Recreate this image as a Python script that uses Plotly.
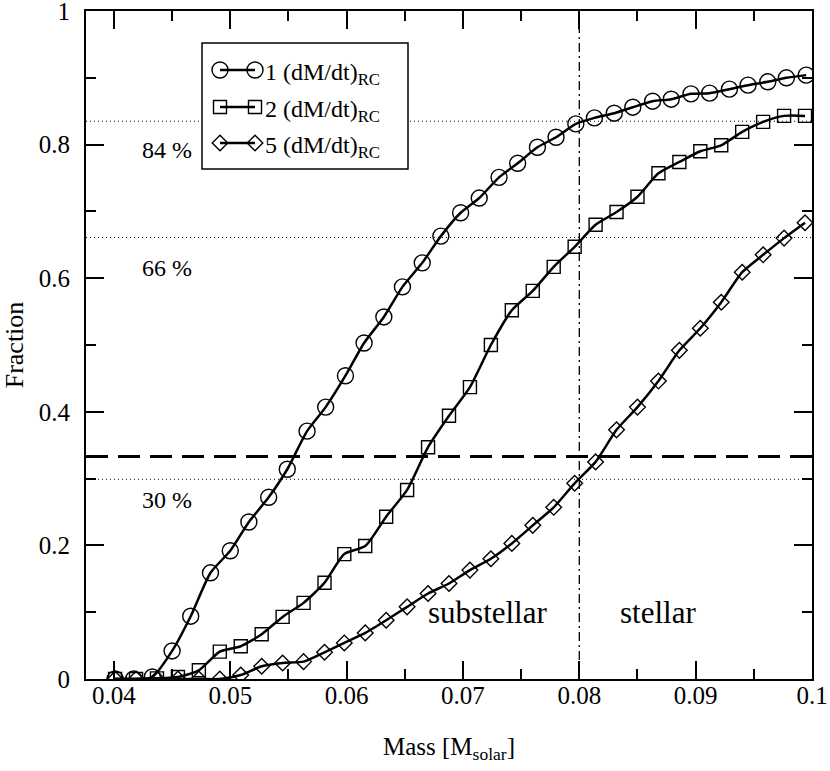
import plotly.graph_objects as go

# ---------------- data ----------------
mass_1 = [0.0401, 0.0417, 0.0433, 0.0450, 0.0466, 0.0483, 0.0500, 0.0516, 0.0533, 0.0549,
          0.0566, 0.0582, 0.0599, 0.0615, 0.0632, 0.0648, 0.0665, 0.0681, 0.0698, 0.0714,
          0.0731, 0.0747, 0.0764, 0.0780, 0.0797, 0.0813, 0.0830, 0.0846, 0.0863, 0.0879,
          0.0896, 0.0912, 0.0929, 0.0945, 0.0962, 0.0978, 0.0995]
frac_1 = [0.000, 0.000, 0.003, 0.042, 0.094, 0.159, 0.192, 0.235, 0.272, 0.314,
          0.371, 0.407, 0.454, 0.503, 0.542, 0.587, 0.623, 0.663, 0.698, 0.720,
          0.751, 0.772, 0.796, 0.811, 0.831, 0.840, 0.847, 0.856, 0.865, 0.868,
          0.876, 0.877, 0.883, 0.889, 0.894, 0.900, 0.904]

mass_2 = [0.0401, 0.0419, 0.0437, 0.0455, 0.0473, 0.0491, 0.0509, 0.0527, 0.0545, 0.0563,
          0.0581, 0.0598, 0.0616, 0.0634, 0.0652, 0.0670, 0.0688, 0.0706, 0.0724, 0.0742,
          0.0760, 0.0778, 0.0796, 0.0814, 0.0832, 0.0850, 0.0868, 0.0886, 0.0904, 0.0922,
          0.0940, 0.0958, 0.0976, 0.0994]
frac_2 = [0.000, 0.000, 0.001, 0.003, 0.013, 0.041, 0.049, 0.067, 0.093, 0.114,
          0.144, 0.187, 0.199, 0.243, 0.283, 0.347, 0.394, 0.437, 0.500, 0.552,
          0.581, 0.617, 0.647, 0.680, 0.699, 0.722, 0.757, 0.774, 0.790, 0.799,
          0.819, 0.834, 0.843, 0.843]

mass_5 = mass_2
frac_5 = [0.000, 0.000, 0.000, 0.000, 0.000, 0.000, 0.006, 0.019, 0.024, 0.026,
          0.040, 0.054, 0.069, 0.088, 0.108, 0.128, 0.143, 0.163, 0.180, 0.203,
          0.230, 0.257, 0.293, 0.325, 0.373, 0.407, 0.446, 0.492, 0.525, 0.564,
          0.609, 0.635, 0.660, 0.683]

series_names = ["1 (dM/dt)<sub>RC</sub>", "2 (dM/dt)<sub>RC</sub>", "5 (dM/dt)<sub>RC</sub>"]

ref_levels = [0.835, 0.661, 0.299]
ref_labels = ["84 %", "66 %", "30 %"]
ref_label_y = [0.792, 0.615, 0.268]
ref_label_x = 0.0422
third_level = 0.333
mass_limit = 0.08
region_labels = ["substellar", "stellar"]
region_x = [0.0721, 0.0868]
region_y = 0.099

x_range = [0.0376, 0.1]
y_range = [0, 1]
x_tickvals = [0.04, 0.05, 0.06, 0.07, 0.08, 0.09, 0.10]
x_ticktext = ["0.04", "0.05", "0.06", "0.07", "0.08", "0.09", "0.1"]
x_minorvals = [0.045, 0.055, 0.065, 0.075, 0.085, 0.095]
y_tickvals = [0, 0.2, 0.4, 0.6, 0.8, 1.0]
y_ticktext = ["0", "0.2", "0.4", "0.6", "0.8", "1"]
y_minorvals = [0.1, 0.3, 0.5, 0.7, 0.9]

# ---------------- styling ----------------
FONT = "Liberation Serif"
L, R, T, B = 86, 812, 11, 679   # plot area in pixels
W, H = 830, 771

symbols = [("circle-open", 16), ("square-open", 13), ("diamond-open", 12)]

fig = go.Figure()

for xs, ys, name, (sym, sz) in zip([mass_1, mass_2, mass_5], [frac_1, frac_2, frac_5],
                                   series_names, symbols):
    fig.add_trace(go.Scatter(
        x=xs, y=ys, mode="lines+markers", name=name, showlegend=False,
        line=dict(color="black", width=2.5, shape="spline", smoothing=0.6),
        marker=dict(symbol=sym, size=sz, color="black", line=dict(width=1.4, color="black")),
    ))

shapes = []
for lv in ref_levels:
    shapes.append(dict(type="line", xref="paper", x0=0, x1=1, yref="y", y0=lv, y1=lv,
                       line=dict(color="black", width=1, dash="1px,3px"), layer="below"))
shapes.append(dict(type="line", xref="paper", x0=0, x1=1, yref="y", y0=third_level, y1=third_level,
                   line=dict(color="black", width=3, dash="22px,10px"), layer="below"))
shapes.append(dict(type="line", xref="x", x0=mass_limit, x1=mass_limit, yref="paper", y0=0, y1=1,
                   line=dict(color="black", width=1.3, dash="9px,4px,2px,4px"), layer="below"))

# custom legend drawn on a pixel-based overlay axis
leg_box = (202, 408, 43, 169)
leg_rows = [70, 107, 143]
shapes.append(dict(type="rect", xref="x2", yref="y2", x0=leg_box[0], x1=leg_box[1],
                   y0=leg_box[2], y1=leg_box[3], line=dict(color="black", width=1.5),
                   fillcolor="white", layer="below"))
fig.update_layout(shapes=shapes)

for row, (sym, sz) in zip(leg_rows, symbols):
    fig.add_trace(go.Scatter(
        x=[220, 255], y=[row, row], xaxis="x2", yaxis="y2", mode="lines+markers",
        showlegend=False, hoverinfo="skip",
        line=dict(color="black", width=2.5),
        marker=dict(symbol=sym, size=sz, color="black", line=dict(width=1.4, color="black")),
    ))

annotations = []
for row, name in zip(leg_rows, series_names):
    annotations.append(dict(xref="x2", yref="y2", x=263, y=row + 4, text=name, showarrow=False,
                            xanchor="left", yanchor="middle",
                            font=dict(family=FONT, size=24, color="black")))
for lab, ly in zip(ref_labels, ref_label_y):
    annotations.append(dict(xref="x", yref="y", x=ref_label_x, y=ly, text=lab, showarrow=False,
                            xanchor="left", yanchor="middle",
                            font=dict(family=FONT, size=24, color="black")))
for lab, lx in zip(region_labels, region_x):
    annotations.append(dict(xref="x", yref="y", x=lx, y=region_y, text=lab, showarrow=False,
                            xanchor="center", yanchor="middle",
                            font=dict(family=FONT, size=31, color="black")))
fig.update_layout(annotations=annotations)

axis_common = dict(
    showgrid=False, zeroline=False, showline=True, linecolor="black", linewidth=2,
    mirror="allticks", ticks="inside", ticklen=18, tickwidth=1.5, tickcolor="black",
    tickfont=dict(family=FONT, size=25, color="black"),
    automargin=False, ticklabeloverflow="allow",
)

fig.update_layout(
    width=W, height=H,
    margin=dict(l=L, r=W - R, t=T, b=H - B),
    paper_bgcolor="white", plot_bgcolor="white",
    font=dict(family=FONT, color="black"),
    xaxis=dict(range=x_range, tickmode="array", tickvals=x_tickvals, ticktext=x_ticktext,
               minor=dict(tickmode="array", tickvals=x_minorvals, ticks="inside", ticklen=10,
                          tickwidth=1.5, tickcolor="black", showgrid=False),
               title=dict(text="Mass [M<sub>solar</sub>]", font=dict(family=FONT, size=25), standoff=29),
               ticklabelstandoff=-7, **axis_common),
    yaxis=dict(range=y_range, tickmode="array", tickvals=y_tickvals, ticktext=y_ticktext,
               minor=dict(tickmode="array", tickvals=y_minorvals, ticks="inside", ticklen=10,
                          tickwidth=1.5, tickcolor="black", showgrid=False),
               title=dict(text="Fraction", font=dict(family=FONT, size=26), standoff=19),
               ticklabelstandoff=9, **axis_common),
    xaxis2=dict(range=[L, R], overlaying="x", visible=False, fixedrange=True),
    yaxis2=dict(range=[B, T], overlaying="y", visible=False, fixedrange=True),
)

fig.write_html("out.html", config={"displayModeBar": False},
               post_script="document.body.style.margin='0px';")
